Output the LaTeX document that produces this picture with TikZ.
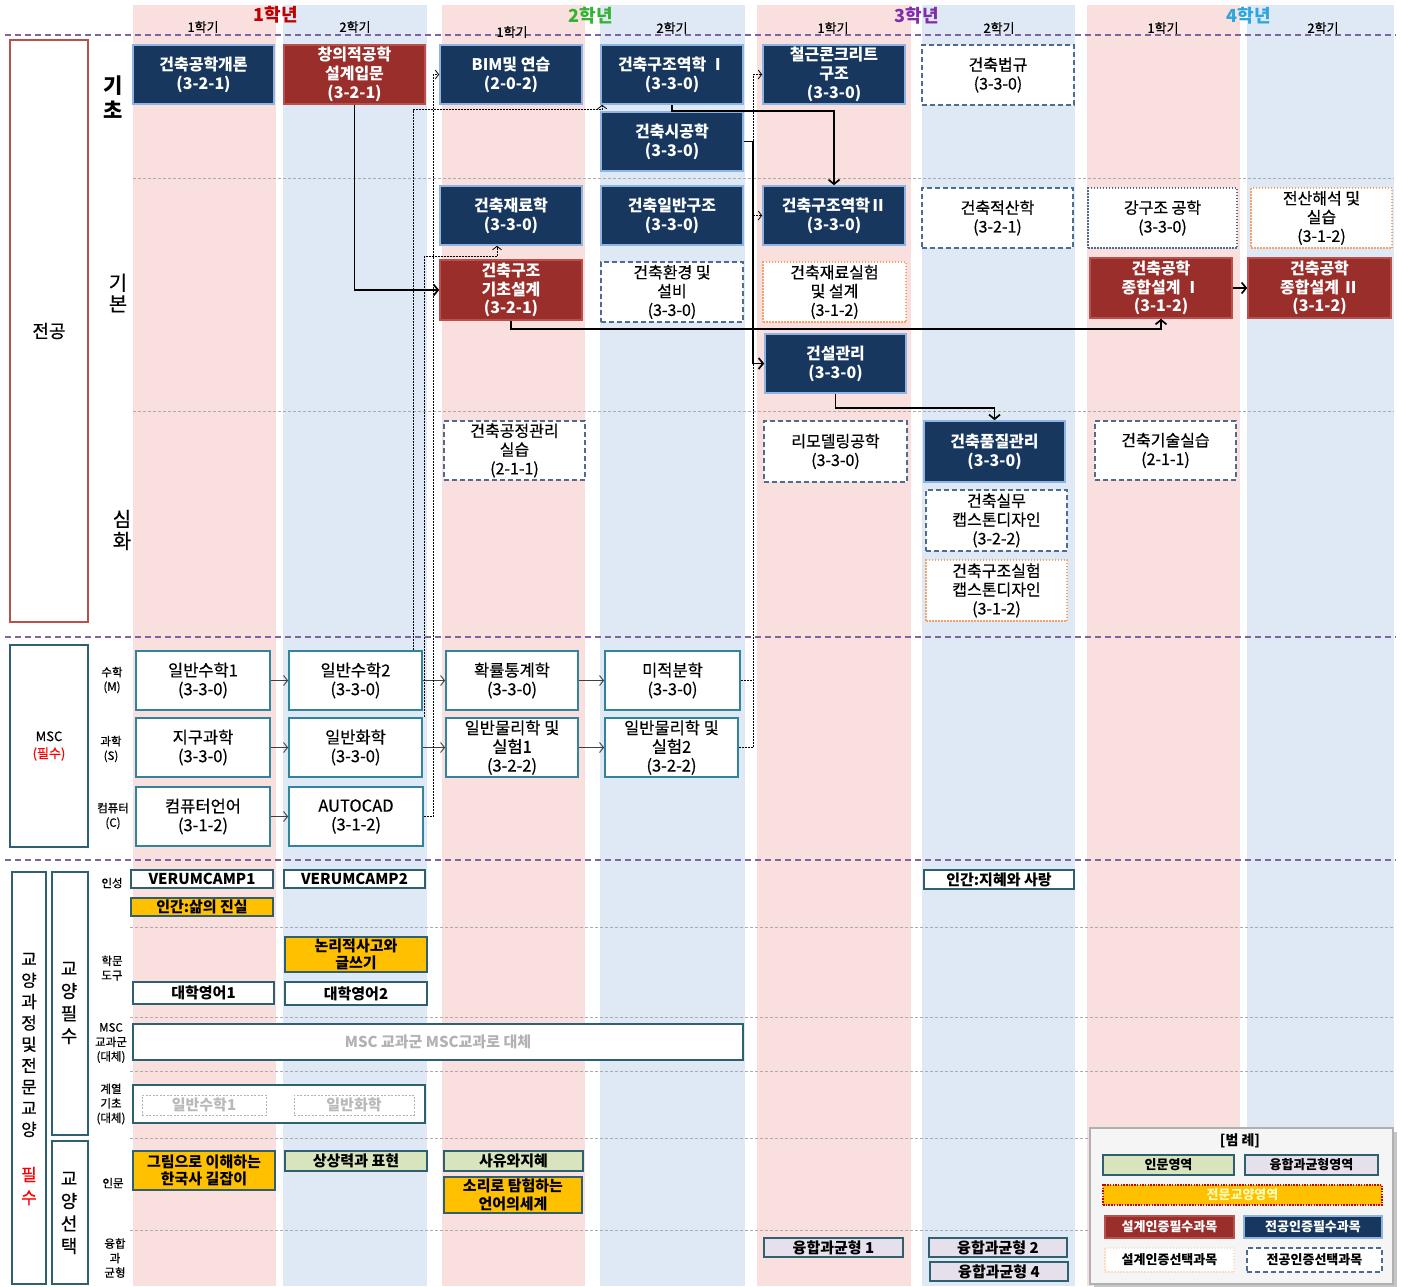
\documentclass[tikz,border=0pt]{standalone}
\usepackage{fontspec}
\setmainfont{Noto Sans CJK KR}
\newfontfamily\krmid{Noto Sans CJK KR}[FakeBold=0.5]
\usetikzlibrary{arrows.meta}
\definecolor{cnavy}{HTML}{17375E}
\definecolor{bnavy}{HTML}{8EB4E3}
\definecolor{cred}{HTML}{9A2E2B}
\definecolor{bred}{HTML}{B9504C}
\definecolor{stpink}{HTML}{F9E0DE}
\definecolor{stblue}{HTML}{DFE9F5}
\definecolor{dashblue}{HTML}{4F6B8F}
\definecolor{dotorange}{HTML}{F4A46A}
\definecolor{cteal}{HTML}{31849B}
\definecolor{gteal}{HTML}{2F6070}
\definecolor{purp}{HTML}{8064A2}
\definecolor{cyellow}{HTML}{FFC000}
\definecolor{cgreen}{HTML}{D7E4BD}
\definecolor{clav}{HTML}{E6E0EC}
\definecolor{lframe}{HTML}{B0B0B0}
\definecolor{hyred}{HTML}{C00000}
\definecolor{hygreen}{HTML}{33B233}
\definecolor{hypurple}{HTML}{7F2FA8}
\definecolor{hycyan}{HTML}{2CA6DF}
\newcommand\mkbox[7]{%
  \pgfmathsetmacro\mkw{#5-#3}%
  \pgfmathsetmacro\mkh{#6-#4}%
  \node[#1, minimum width=\mkw pt, minimum height=\mkh pt] (#2) at ({(#3+#5)/2},{(#4+#6)/2}) {#7};}
\tikzset{
  basebox/.style={inner sep=0pt, align=center, line width=1.6pt},
  navyb/.style={basebox, fill=cnavy, draw=bnavy, text=white, font=\bfseries\fontsize{16}{18.8}\selectfont},
  redb/.style={basebox, fill=cred, draw=bred, text=white, font=\bfseries\fontsize{16}{18.8}\selectfont},
  dashb/.style={basebox, fill=white, draw=dashblue, dash pattern=on 5pt off 3pt, font=\krmid\fontsize{16}{18.8}\selectfont},
  dotb/.style={basebox, fill=white, draw=dashblue, dash pattern=on 1.5pt off 1.5pt, font=\krmid\fontsize{16}{18.8}\selectfont},
  orb/.style={basebox, fill=white, draw=dotorange, dash pattern=on 1.5pt off 1.5pt, font=\krmid\fontsize{16}{18.8}\selectfont},
  mscb/.style={basebox, fill=white, draw=cteal, line width=1.8pt, font=\krmid\fontsize{16.5}{18.8}\selectfont},
  gwhite/.style={basebox, fill=white, draw=gteal, line width=1.8pt, font=\bfseries\fontsize{15}{17.5}\selectfont},
  gyellow/.style={gwhite, fill=cyellow},
  ggreen/.style={gwhite, fill=cgreen},
  glav/.style={gwhite, fill=clav},
  ghost/.style={basebox, fill=white, draw=gray!60, line width=0.8pt, dash pattern=on 2pt off 1.5pt, text=gray!55, font=\bfseries\fontsize{15}{17}\selectfont},
  leftred/.style={basebox, draw=bred, line width=2pt, font=\krmid\fontsize{18}{21}\selectfont},
  leftteal/.style={basebox, draw=gteal, line width=2pt, font=\krmid\fontsize{13}{17}\selectfont},
  rowlab/.style={inner sep=0pt, align=center, font=\krmid\fontsize{11.5}{14.5}\selectfont},
  hy/.style={inner sep=0pt, font=\bfseries\fontsize{18}{20}\selectfont},
  sem/.style={inner sep=0pt, font=\krmid\fontsize{13}{14}\selectfont},
  thick sep/.style={purp, line width=1.8pt, dash pattern=on 6pt off 4pt},
  thin sep/.style={gray!65, line width=0.8pt, dash pattern=on 3pt off 2pt},
  solarr/.style={draw=black, line width=1.7pt, -{Straight Barb[length=4.5pt,width=11pt]}},
  dotarr/.style={draw=black, line width=0.8pt, dash pattern=on 2pt off 1pt, -{Straight Barb[length=3.5pt,width=9pt]}},
  mscarr/.style={draw=black!75, line width=0.9pt, -{Straight Barb[length=4pt,width=10pt]}},
  legtxt/.style={font=\bfseries\fontsize{13}{15}\selectfont}
}
\begin{document}
\begin{tikzpicture}[x=1pt,y=-1pt]
\useasboundingbox (0,0) rectangle (1401,1286);
\fill[white] (0,0) rectangle (1401,1286);
% stripes
\foreach \a/\b in {133/276,442/585,757/911,1087/1240} \fill[stpink] (\a,5) rectangle (\b,1286);
\foreach \a/\b in {283/427,600/745,922/1075,1247/1394} \fill[stblue] (\a,5) rectangle (\b,1286);
% separators
\draw[thick sep] (5,35) -- (1396,35);
\draw[thick sep] (5,637) -- (1396,637);
\draw[thick sep] (5,860) -- (1396,860);
\foreach \yy in {178,411} \draw[thin sep] (133,\yy) -- (1394,\yy);
\foreach \yy in {927,1017,1071,1138,1230} \draw[thin sep] (130,\yy) -- (1394,\yy);
% header
\node[hy, text=hyred] (hy1) at (276,15) {1학년};
\node[hy, text=hygreen] (hy2) at (591,16) {2학년};
\node[hy, text=hypurple] (hy3) at (917,16) {3학년};
\node[hy, text=hycyan] (hy4) at (1249,16) {4학년};
\node[sem] (s11) at (203,27) {1학기};
\node[sem] (s12) at (355,27) {2학기};
\node[sem] (s21) at (512,32) {1학기};
\node[sem] (s22) at (672,28) {2학기};
\node[sem] (s31) at (833,28) {1학기};
\node[sem] (s32) at (999,28) {2학기};
\node[sem] (s41) at (1163,28) {1학기};
\node[sem] (s42) at (1323,28) {2학기};
% left frames
\mkbox{leftred}{jg}{10}{40}{88}{622}{전공}
\mkbox{leftteal}{mscframe}{10}{645}{88}{847}{MSC\\{\color{red}(필수)}}
\mkbox{leftteal}{gyframe}{12}{872}{46}{1284}{}
\mkbox{leftteal}{gpframe}{52}{872}{88}{1135}{}
\mkbox{leftteal}{gsframe}{52}{1141}{88}{1284}{}
\node[inner sep=0pt, align=center, font=\krmid\fontsize{17}{21.3}\selectfont] (gytext) at (29,1045) {교\\양\\과\\정\\및\\전\\문\\교\\양};
\node[inner sep=0pt, align=center, text=red, font=\krmid\fontsize{17}{23}\selectfont] (gyreq) at (29,1186) {필\\수};
\node[inner sep=0pt, align=center, font=\krmid\fontsize{18}{22.5}\selectfont] (gptext) at (69,1003) {교\\양\\필\\수};
\node[inner sep=0pt, align=center, font=\krmid\fontsize{18}{22.5}\selectfont] (gstext) at (69,1213) {교\\양\\선\\택};
% level labels
\node[inner sep=0pt, align=center, font=\bfseries\fontsize{21}{25}\selectfont] (lv1) at (113,97) {기\\초};
\node[inner sep=0pt, align=center, font=\krmid\fontsize{20}{21}\selectfont] (lv2) at (118,293) {기\\본};
\node[inner sep=0pt, align=center, font=\krmid\fontsize{20}{22}\selectfont] (lv3) at (122,530) {심\\화};
% row labels
\node[rowlab] (rM) at (112,680) {수학\\(M)};
\node[rowlab] (rS) at (111,749) {과학\\(S)};
\node[rowlab] (rC) at (113,816) {컴퓨터\\(C)};
\node[rowlab] (rIn) at (112,883) {인성};
\node[rowlab] (rHak) at (112,968) {학문\\도구};
\node[rowlab] (rMsc) at (111,1043) {MSC\\교과군\\(대체)};
\node[rowlab] (rGye) at (111,1104) {계열\\기초\\(대체)};
\node[rowlab] (rHum) at (113,1183) {인문};
\node[rowlab] (rYung) at (115,1258) {융합\\과\\균형};
% major courses
\mkbox{navyb}{gaeron}{133}{45}{274}{104}{건축공학개론\\(3-2-1)}
\mkbox{redb}{chang}{284}{45}{425}{104}{창의적공학\\설계입문\\(3-2-1)}
\mkbox{navyb}{bim}{440}{45}{582}{104}{BIM및 연습\\(2-0-2)}
\mkbox{navyb}{gujo1}{601}{45}{743}{104}{건축구조역학 Ⅰ\\(3-3-0)}
\mkbox{navyb}{rc}{763}{45}{905}{104}{철근콘크리트\\구조\\(3-3-0)}
\mkbox{dashb}{beopgyu}{922}{45}{1074}{105}{건축법규\\(3-3-0)}
\mkbox{navyb}{sigong}{601}{112}{743}{171}{건축시공학\\(3-3-0)}
\mkbox{navyb}{jaeryo}{440}{186}{582}{245}{건축재료학\\(3-3-0)}
\mkbox{navyb}{ilban}{601}{186}{743}{245}{건축일반구조\\(3-3-0)}
\mkbox{navyb}{gujo2}{763}{186}{905}{245}{건축구조역학Ⅱ\\(3-3-0)}
\mkbox{dashb}{jeoksan}{922}{188}{1073}{248}{건축적산학\\(3-2-1)}
\mkbox{dotb}{ganggujo}{1088}{188}{1237}{248}{강구조 공학\\(3-3-0)}
\mkbox{orb}{jeonsan}{1251}{188}{1392}{248}{전산해석 및\\실습\\(3-1-2)}
\mkbox{redb}{gicho}{440}{260}{582}{320}{건축구조\\기초설계\\(3-2-1)}
\mkbox{dashb}{hwangyeong}{601}{262}{743}{322}{건축환경 및\\설비\\(3-3-0)}
\mkbox{orb}{silheom}{763}{262}{906}{322}{건축재료실험\\및 설계\\(3-1-2)}
\mkbox{redb}{jong1}{1090}{258}{1232}{318}{건축공학\\종합설계 Ⅰ\\(3-1-2)}
\mkbox{redb}{jong2}{1248}{258}{1391}{318}{건축공학\\종합설계 Ⅱ\\(3-1-2)}
\mkbox{navyb}{gwanri}{765}{334}{906}{393}{건설관리\\(3-3-0)}
\mkbox{dashb}{gongjeong}{444}{421}{585}{480}{건축공정관리\\실습\\(2-1-1)}
\mkbox{dashb}{remodel}{764}{421}{907}{482}{리모델링공학\\(3-3-0)}
\mkbox{navyb}{pumjil}{924}{421}{1065}{482}{건축품질관리\\(3-3-0)}
\mkbox{dashb}{gisul}{1095}{421}{1236}{480}{건축기술실습\\(2-1-1)}
\mkbox{dashb}{capstone1}{926}{490}{1067}{551}{건축실무\\캡스톤디자인\\(3-2-2)}
\mkbox{orb}{capstone2}{926}{560}{1067}{621}{건축구조실험\\캡스톤디자인\\(3-1-2)}
% MSC courses
\mkbox{mscb}{math1}{136}{651}{270}{710}{일반수학1\\(3-3-0)}
\mkbox{mscb}{math2}{289}{651}{422}{710}{일반수학2\\(3-3-0)}
\mkbox{mscb}{prob}{446}{651}{578}{710}{확률통계학\\(3-3-0)}
\mkbox{mscb}{calc}{605}{651}{740}{710}{미적분학\\(3-3-0)}
\mkbox{mscb}{earth}{136}{718}{270}{777}{지구과학\\(3-3-0)}
\mkbox{mscb}{chem}{289}{718}{422}{777}{일반화학\\(3-3-0)}
\mkbox{mscb}{phys1}{446}{718}{578}{777}{일반물리학 및\\실험1\\(3-2-2)}
\mkbox{mscb}{phys2}{605}{718}{738}{777}{일반물리학 및\\실험2\\(3-2-2)}
\mkbox{mscb}{comp}{136}{787}{270}{846}{컴퓨터언어\\(3-1-2)}
\mkbox{mscb}{autocad}{289}{787}{423}{846}{AUTOCAD\\(3-1-2)}
% general education
\mkbox{gwhite}{verum1}{131}{870}{273}{888}{VERUMCAMP1}
\mkbox{gwhite}{verum2}{284}{870}{425}{888}{VERUMCAMP2}
\mkbox{gyellow}{ingan1}{131}{898}{273}{916}{인간:삶의 진실}
\mkbox{gyellow}{nonri}{285}{937}{427}{972}{논리적사고와\\글쓰기}
\mkbox{gwhite}{eng1}{133}{982}{274}{1004}{대학영어1}
\mkbox{gwhite}{eng2}{285}{982}{427}{1005}{대학영어2}
\mkbox{gwhite, text=gray!60}{mscsub}{133}{1024}{743}{1060}{MSC 교과군 MSC교과로 대체}
\mkbox{gwhite}{gyeyeol}{133}{1085}{425}{1123}{}
\mkbox{ghost}{gm1}{142}{1095}{266}{1115}{일반수학1}
\mkbox{ghost}{gch}{294}{1095}{414}{1115}{일반화학}
\mkbox{gyellow}{hanguk}{133}{1151}{275}{1190}{그림으로 이해하는\\한국사 길잡이}
\mkbox{ggreen}{sangsang}{285}{1151}{427}{1171}{상상력과 표현}
\mkbox{ggreen}{sayu}{444}{1151}{583}{1171}{사유와지혜}
\mkbox{gyellow}{sori}{444}{1177}{582}{1213}{소리로 탐험하는\\언어의세계}
\mkbox{gwhite}{ingan2}{924}{870}{1074}{889}{인간:지혜와 사랑}
\mkbox{glav}{yung1}{764}{1238}{903}{1257}{융합과균형 1}
\mkbox{glav}{yung2}{929}{1238}{1067}{1257}{융합과균형 2}
\mkbox{glav}{yung4}{930}{1262}{1068}{1281}{융합과균형 4}
% legend
\fill[gray!45] (1094,1132) rectangle (1397,1288);
\mkbox{basebox, fill=gray!8, draw=lframe, line width=2pt}{legend}{1090}{1128}{1393}{1284}{}
\node[legtxt, font=\bfseries\fontsize{14}{16}\selectfont] (legtitle) at (1240,1141) {[범 례]};
\mkbox{ggreen, line width=1.2pt, legtxt}{l1}{1103}{1155}{1234}{1175}{인문영역}
\mkbox{glav, line width=1.2pt, legtxt}{l2}{1245}{1155}{1378}{1175}{융합과균형영역}
\mkbox{basebox, fill=cyellow, draw=red!80!black, line width=1.4pt, dash pattern=on 1.5pt off 1.2pt, legtxt, text=yellow!30}{l3}{1103}{1185}{1382}{1205}{전문교양영역}
\mkbox{redb, legtxt, line width=1.2pt}{l4}{1105}{1216}{1234}{1238}{설계인증필수과목}
\mkbox{navyb, legtxt, line width=1.2pt}{l5}{1244}{1216}{1382}{1238}{전공인증필수과목}
\mkbox{orb, legtxt, draw=dotorange!40, line width=1.2pt}{l6}{1105}{1248}{1234}{1272}{설계인증선택과목}
\mkbox{dashb, legtxt, line width=1.2pt}{l7}{1247}{1248}{1382}{1272}{전공인증선택과목}
% MSC arrows
\draw[mscarr] (math1.east) -- (math2.west);
\draw[mscarr] (math2.east) -- (prob.west);
\draw[mscarr] (prob.east) -- (calc.west);
\draw[mscarr] (earth.east) -- (chem.west);
\draw[mscarr] (chem.east) -- (phys1.west);
\draw[mscarr] (phys1.east) -- (phys2.west);
\draw[mscarr] (comp.east) -- (autocad.west);
% dotted prerequisite connectors
\draw[dotarr] ([xshift=-10pt]math2.north east) |- ([xshift=2pt,yshift=-5pt]gujo1.south west) -- ([xshift=2pt]gujo1.south west);
\draw[dotarr] ([xshift=1pt]chem.north east) |- ([xshift=-14pt,yshift=-11pt]jaeryo.south) -- ([xshift=-14pt]jaeryo.south);
\draw[dotarr] (autocad.east) -- ++(9,0) |- (bim.west);
\draw[dotarr] (calc.east) -- ++(12,0) |- (gujo2.west);
\draw[dotarr] (phys2.east) -- ++(14,0) |- (rc.west);
% solid connectors
\draw[solarr] (chang.south) |- (gicho.west);
\draw[solarr] (gujo1.south) -- ([yshift=-6pt]gujo1.south) -| (gujo2.north);
\draw[solarr] (sigong.east) -- ++(9,0) |- (gwanri.west);
\draw[solarr] (gicho.south) -- ([yshift=-8pt]gicho.south) -| (jong1.south);
\draw[solarr] (gwanri.south) -- ([yshift=-14pt]gwanri.south) -| (pumjil.north);
\draw[solarr] (jong1.east) -- (jong2.west);
\end{tikzpicture}
\end{document}
